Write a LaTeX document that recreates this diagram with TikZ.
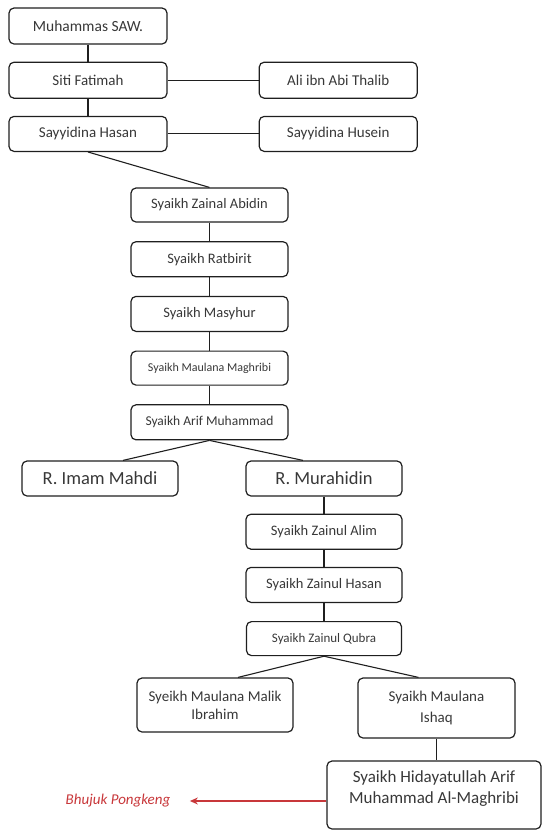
\documentclass[tikz,border=0pt]{standalone}
\usepackage{fontspec}
\setmainfont{Carlito}
\usetikzlibrary{arrows.meta, positioning}
\definecolor{cline}{HTML}{1F1F1F}
\definecolor{ctext}{HTML}{383838}
\definecolor{cred}{HTML}{C8373A}
\tikzset{
  every picture/.style={line width=1.2pt},
  box/.style={draw=cline, rounded corners=5pt, align=center, inner sep=2pt, text=ctext, minimum width=157pt, minimum height=35pt},
  link/.style={draw=cline, line width=1.1pt},
  arrow/.style={-{Stealth[length=8pt, width=7pt]}, draw=cred, line width=1.2pt},
  note/.style={font=\fontsize{15}{18}\selectfont\itshape, text=cred, inner ysep=2pt, inner xsep=19pt},
}
\begin{document}
\begin{tikzpicture}[x=1pt, y=-1pt, b/.style={box, font=\fontsize{#1}{18}\selectfont}, b/.default=15]
  \useasboundingbox (0,0) rectangle (543,831);
  % top of the line
  \node[b=15.5, minimum width=158pt, minimum height=36pt] (muh) at (88,26) {Muhammas SAW.};
  \node[b, minimum width=158pt, minimum height=36pt, below=17pt of muh] (siti) {Siti Fatimah};
  \node[b, minimum width=158pt, below=17pt of siti] (hasan) {Sayyidina Hasan};
  \node[b, minimum width=158pt, minimum height=36pt, right=91pt of siti] (ali) {Ali ibn Abi Thalib};
  \node[b, minimum width=158pt, right=91pt of hasan] (husein) {Sayyidina Husein};
  \draw[link] (muh) -- (siti); \draw[link] (siti) -- (hasan);
  \draw[link] (siti) -- (ali); \draw[link] (hasan) -- (husein);
  % middle column
  \node[b=14.5, minimum height=34pt] (abidin) at (209.5,205) {Syaikh Zainal Abidin};
  \node[b=14.5, below=18.5pt of abidin] (ratbirit) {Syaikh Ratbirit};
  \node[b=14.5, below=18.5pt of ratbirit] (masyhur) {Syaikh Masyhur};
  \node[b=12, minimum height=34pt, below=18.5pt of masyhur] (maghribi) {Syaikh Maulana Maghribi};
  \node[b=13.5, below=18.5pt of maghribi] (arif) {Syaikh Arif Muhammad};
  \draw[link] (hasan.south) -- (abidin.north);
  \foreach \a/\c in {abidin/ratbirit, ratbirit/masyhur, masyhur/maghribi, maghribi/arif} \draw[link] (\a) -- (\c);
  % two sons
  \node[b=18.5, minimum width=156pt] (imam) at (100,478.5) {R. Imam Mahdi};
  \node[b=18.5, minimum width=156pt] (murahidin) at (324,478.5) {R. Murahidin};
  \draw[link] (arif.south) -- ([xshift=23pt]imam.north);
  \draw[link] (arif.south) -- ([xshift=-21pt]murahidin.north);
  \node[b=14.5, minimum width=156pt, below=17pt of murahidin] (alim) {Syaikh Zainul Alim};
  \node[b=14.5, minimum width=156pt, below=17pt of alim] (zhasan) {Syaikh Zainul Hasan};
  \node[b=13, minimum width=155pt, minimum height=34pt, below=18pt of zhasan] (qubra) {Syaikh Zainul Qubra};
  \foreach \a/\c in {murahidin/alim, alim/zhasan, zhasan/qubra} \draw[link] (\a) -- (\c);
  % last branch
  \node[box, minimum width=156pt, minimum height=54pt, font=\fontsize{15}{18}\selectfont] (malik) at (215,705) {Syeikh Maulana Malik\\Ibrahim};
  \node[box, minimum height=60pt, font=\fontsize{15}{21}\selectfont] (ishaq) at (436.5,708) {Syaikh Maulana\\Ishaq};
  \draw[link] (qubra.south) -- ([xshift=23pt]malik.north);
  \draw[link] (qubra.south) -- ([xshift=-18pt]ishaq.north);
  \node[box, minimum width=214pt, minimum height=68pt, font=\fontsize{17}{21}\selectfont] (hida) at (434,795) {Syaikh Hidayatullah Arif\\Muhammad Al-Maghribi\\[-6pt]\mbox{}};
  \draw[link] (ishaq.south) -- (ishaq.south |- hida.north);
  \node[note] (bhujuk) at (118,801) {Bhujuk Pongkeng};
  \draw[arrow] ([yshift=-6pt]hida.west) -- ([yshift=-6pt]hida.west -| bhujuk.east);
\end{tikzpicture}
\end{document}
